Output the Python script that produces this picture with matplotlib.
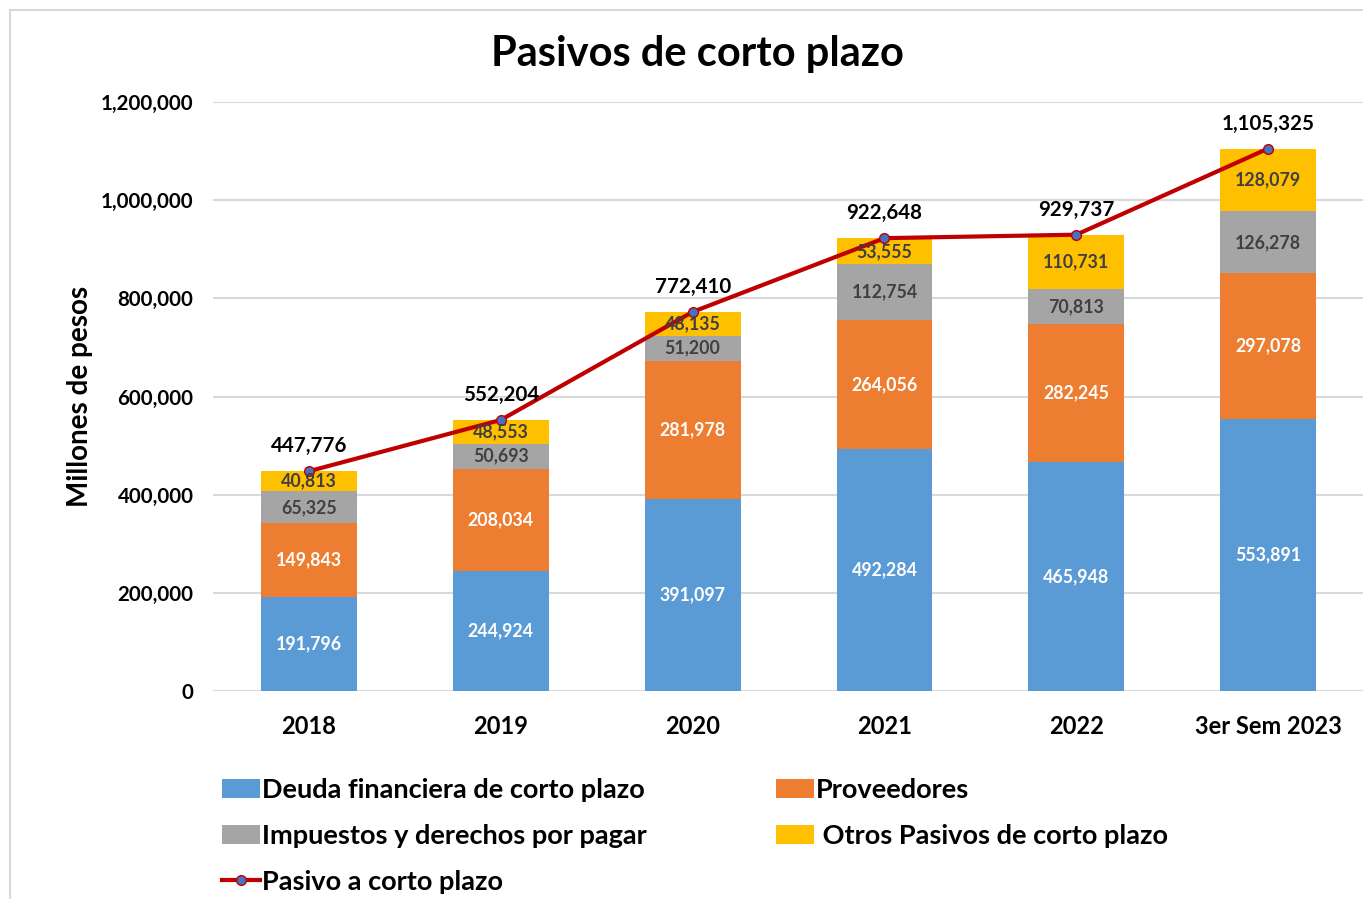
import matplotlib.pyplot as plt
import matplotlib.patches as mpatches
import numpy as np

plt.rcParams['font.family'] = ['Lato', 'DejaVu Sans']
plt.rcParams['font.weight'] = 'bold'

# Data (millones de pesos)
years = ['2018', '2019', '2020', '2021', '2022', '3er Sem 2023']
deuda = [191796, 244924, 391097, 492284, 465948, 553891]
proveedores = [149843, 208034, 281978, 264056, 282245, 297078]
impuestos = [65325, 50693, 51200, 112754, 70813, 126278]
otros = [40813, 48553, 48135, 53555, 110731, 128079]
total = [447776, 552204, 772410, 922648, 929737, 1105325]

series = [
    ('Deuda financiera de corto plazo', deuda, '#5B9BD5', 'white'),
    ('Proveedores', proveedores, '#ED7D31', 'white'),
    ('Impuestos y derechos por pagar', impuestos, '#A5A5A5', '#404040'),
    (' Otros Pasivos de corto plazo', otros, '#FFC000', '#404040'),
]

fig = plt.figure(figsize=(13.63, 8.99), dpi=100)
ax = fig.add_axes([0.1563, 0.2314, 0.8445, 0.6551])

# Light frame around the chart
fig.patches.append(mpatches.Rectangle((10 / 1363, -0.1), 1.2, 1 - 10 / 899 + 0.1,
                                      transform=fig.transFigure, fill=False,
                                      edgecolor='#D9D9D9', linewidth=1.5))

x = np.arange(len(years))
bottom = np.zeros(len(years))
handles = []
for name, vals, color, txtcolor in series:
    vals = np.array(vals)
    bars = ax.bar(x, vals, 0.5, bottom=bottom, color=color, label=name, zorder=2)
    handles.append(bars)
    for xi, b, v in zip(x, bottom, vals):
        ax.text(xi, b + v / 2, f'{v:,}', ha='center', va='center',
                color=txtcolor, fontsize=12.8, fontweight='bold', zorder=4)
    bottom += vals

line, = ax.plot(x, total, color='#C00000', linewidth=3, marker='o', markersize=7,
                markerfacecolor='#4472C4', markeredgecolor='#C00000',
                markeredgewidth=1, label='Pasivo a corto plazo', zorder=3)
for xi, t in zip(x, total):
    ax.annotate(f'{t:,}', (xi, t), xytext=(0, 18), textcoords='offset points',
                ha='center', va='center', fontsize=14.8, fontweight='bold', color='black')

ax.set_xlim(-0.5, 5.5)
ax.set_ylim(0, 1200000)
ax.set_yticks(np.arange(0, 1200001, 200000))
ax.set_yticklabels([f'{v:,}' for v in range(0, 1200001, 200000)], fontsize=14.8)
ax.set_xticks(x)
ax.set_xticklabels(years, fontsize=17)
ax.tick_params(axis='both', length=0)
ax.tick_params(axis='y', pad=14)
ax.tick_params(axis='x', pad=17)
ax.grid(axis='y', color='#D9D9D9', linewidth=1.5, zorder=0)
ax.set_axisbelow(True)
for s in ax.spines.values():
    s.set_visible(False)

ax.set_ylabel('Millones de pesos', fontsize=20, fontweight='bold', labelpad=6)
fig.text(0.512, 0.940, 'Pasivos de corto plazo', ha='center', va='center',
         fontsize=30, fontweight='bold')

leg = fig.legend([handles[0], handles[2], line, handles[1], handles[3]],
                 ['Deuda financiera de corto plazo', 'Impuestos y derechos por pagar',
                  'Pasivo a corto plazo', 'Proveedores', ' Otros Pasivos de corto plazo'],
                 ncol=2, loc='upper left', bbox_to_anchor=(0.155, 0.147),
                 frameon=False, fontsize=19.5, handlelength=1.4, handletextpad=0.08,
                 columnspacing=4.77, labelspacing=0.81, borderaxespad=0)

fig.savefig('out.png', dpi=100)
